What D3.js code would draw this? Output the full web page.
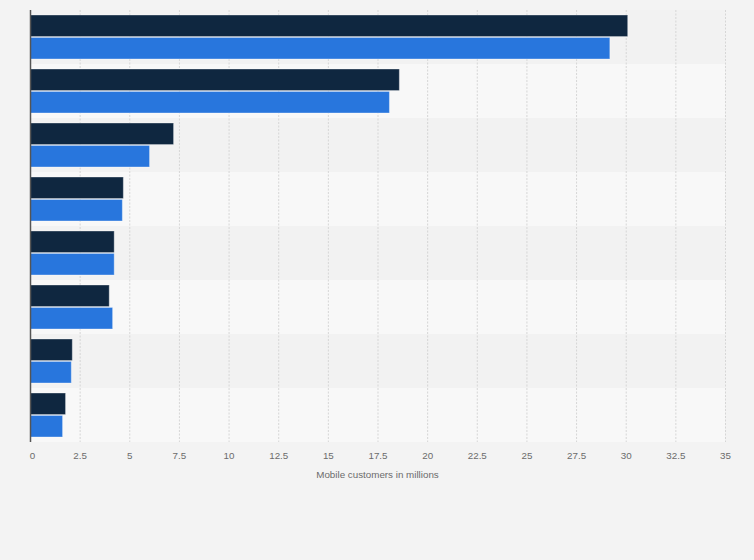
<!DOCTYPE html>
<html>
<head>
<meta charset="utf-8">
<script src="https://cdn.jsdelivr.net/npm/d3@7"></script>
<style>
  html, body { margin: 0; padding: 0; background: #f3f3f3; }
  svg { display: block; font-family: "Liberation Sans", Arial, sans-serif; }
  .x.axis text { fill: #6b6b6b; font-size: 9.8px; }
</style>
</head>
<body>
<div id="chart"></div>
<script>
// categories (labels are not shown in the picture)
var categories = ["A", "B", "C", "D", "E", "F", "G", "H"];
var seriesNames = ["previous", "current"];
var seriesDark = [30.1, 18.6, 7.23, 4.7, 4.24, 3.99, 2.13, 1.79];
var seriesBlue = [29.2, 18.1, 6.02, 4.65, 4.24, 4.16, 2.08, 1.64];
var xTicks = [0, 2.5, 5, 7.5, 10, 12.5, 15, 17.5, 20, 22.5, 25, 27.5, 30, 32.5, 35];
var xTitle = "Mobile customers in millions";

var colors = {previous: "#0f2740", current: "#2876dd"};

var W = 754, H = 560;
var margin = {top: 10, right: 29, bottom: 118, left: 30}
  , width = W - margin.left - margin.right
  , height = H - margin.top - margin.bottom;

var rows = categories.map(function(c, i) {
  return {cat: c, previous: seriesDark[i], current: seriesBlue[i]};
});

var svg = d3.select("#chart").append("svg")
    .attr("width", W)
    .attr("height", H)
  .append("g")
    .attr("transform", "translate(" + margin.left + "," + margin.top + ")");

var x = d3.scaleLinear().domain([0, 35]).range([0, width]);
var y = d3.scaleBand().domain(categories).range([0, height]);
var ySub = d3.scaleBand().domain(seriesNames)
    .range([5, y.bandwidth() - 5]).paddingInner(0.04);

// striped row backgrounds
svg.selectAll(".stripe")
    .data(categories)
  .enter().append("rect")
    .attr("class", "stripe")
    .attr("x", 0)
    .attr("y", function(d) { return y(d); })
    .attr("width", width)
    .attr("height", y.bandwidth())
    .attr("fill", function(d, i) { return i % 2 ? "#f8f8f8" : "#f2f2f2"; });

// vertical grid lines
svg.selectAll(".grid")
    .data(xTicks.slice(1))
  .enter().append("line")
    .attr("class", "grid")
    .attr("x1", function(d) { return x(d) + 0.5; })
    .attr("x2", function(d) { return x(d) + 0.5; })
    .attr("y1", 0)
    .attr("y2", height)
    .attr("stroke", "#d6d6d6")
    .attr("stroke-dasharray", "2,1.5");

// bars
var groups = svg.selectAll(".group")
    .data(rows)
  .enter().append("g")
    .attr("class", "group")
    .attr("transform", function(d) { return "translate(0," + y(d.cat) + ")"; });

groups.selectAll("rect")
    .data(function(d) { return seriesNames.map(function(s) { return {key: s, value: d[s]}; }); })
  .enter().append("rect")
    .attr("x", x(0))
    .attr("y", function(d) { return ySub(d.key); })
    .attr("width", function(d) { return x(d.value) - x(0); })
    .attr("height", ySub.bandwidth())
    .attr("fill", function(d) { return colors[d.key]; })
    .attr("stroke", "rgba(255,255,255,0.35)")
    .attr("stroke-width", 1);

// x axis
var xAxis = svg.append("g")
    .attr("class", "x axis")
    .attr("transform", "translate(0," + height + ")")
    .call(d3.axisBottom(x).tickValues(xTicks).tickSize(0).tickPadding(10)
      .tickFormat(function(d) { return String(d); }));
xAxis.select(".domain").remove();
xAxis.selectAll(".tick").filter(function(d) { return d === 0; })
    .select("text").attr("dx", "2");

// left axis line
svg.append("line")
    .attr("x1", 0.5).attr("x2", 0.5)
    .attr("y1", 0).attr("y2", height)
    .attr("stroke", "#555")
    .attr("stroke-width", 1.5);

svg.append("text")
    .attr("x", width / 2)
    .attr("y", height + 36)
    .attr("text-anchor", "middle")
    .attr("fill", "#6b6b6b")
    .attr("font-size", "9.8px")
    .text(xTitle);
</script>
</body>
</html>
